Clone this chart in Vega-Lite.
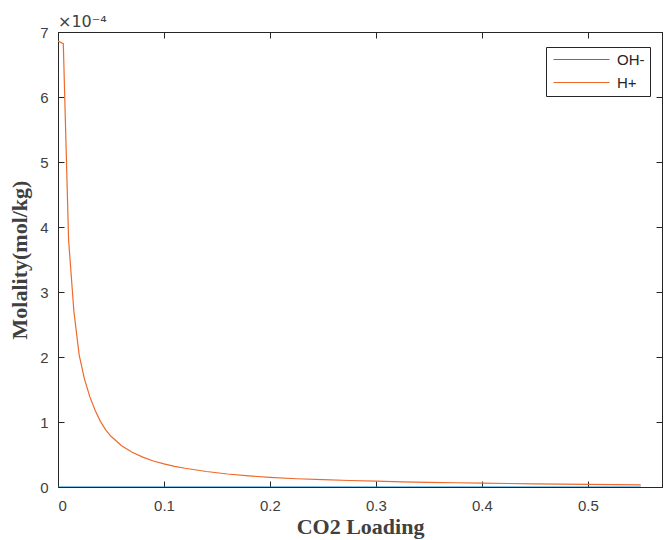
{
  "$schema": "https://vega.github.io/schema/vega-lite/v6.json",
  "width": 604,
  "height": 455,
  "autosize": "none",
  "padding": {"left": 58, "top": 32, "right": 2, "bottom": 53},
  "background": "white",
  "title": {"text": "×10⁻⁴", "anchor": "start", "frame": "group", "offset": -5, "fontSize": 16, "font": "DejaVu Sans", "fontWeight": "normal", "color": "#404040"},
  "config": {
    "title": {"fontSize": 16, "font": "DejaVu Sans", "fontWeight": "normal"},
    "view": {"stroke": "#262626", "strokeWidth": 1},
    "axis": {"grid": false, "domainColor": "#262626", "tickColor": "#262626", "tickSize": -6, "labelColor": "#404040", "labelFont": "Liberation Sans", "labelFontSize": 15, "titleFont": "Liberation Serif", "titleFontWeight": "bold", "titleFontSize": 22, "titleColor": "#404040"}
  },
  "data": {"values": [
    {"loading": 0, "species": "H+", "molality": 6.86e-4},
    {"loading": 0.005, "species": "H+", "molality": 6.82e-4},
    {"loading": 0.01, "species": "H+", "molality": 3.80e-4},
    {"loading": 0.015, "species": "H+", "molality": 2.70e-4},
    {"loading": 0.02, "species": "H+", "molality": 2.03e-4},
    {"loading": 0.025, "species": "H+", "molality": 1.66e-4},
    {"loading": 0.03, "species": "H+", "molality": 1.39e-4},
    {"loading": 0.035, "species": "H+", "molality": 1.18e-4},
    {"loading": 0.04, "species": "H+", "molality": 1.01e-4},
    {"loading": 0.045, "species": "H+", "molality": 0.88e-4},
    {"loading": 0.05, "species": "H+", "molality": 0.78e-4},
    {"loading": 0.06, "species": "H+", "molality": 0.635e-4},
    {"loading": 0.07, "species": "H+", "molality": 0.535e-4},
    {"loading": 0.08, "species": "H+", "molality": 0.46e-4},
    {"loading": 0.09, "species": "H+", "molality": 0.40e-4},
    {"loading": 0.10, "species": "H+", "molality": 0.355e-4},
    {"loading": 0.11, "species": "H+", "molality": 0.318e-4},
    {"loading": 0.12, "species": "H+", "molality": 0.288e-4},
    {"loading": 0.14, "species": "H+", "molality": 0.238e-4},
    {"loading": 0.16, "species": "H+", "molality": 0.200e-4},
    {"loading": 0.18, "species": "H+", "molality": 0.171e-4},
    {"loading": 0.20, "species": "H+", "molality": 0.148e-4},
    {"loading": 0.225, "species": "H+", "molality": 0.127e-4},
    {"loading": 0.25, "species": "H+", "molality": 0.112e-4},
    {"loading": 0.275, "species": "H+", "molality": 0.100e-4},
    {"loading": 0.30, "species": "H+", "molality": 0.090e-4},
    {"loading": 0.325, "species": "H+", "molality": 0.080e-4},
    {"loading": 0.35, "species": "H+", "molality": 0.072e-4},
    {"loading": 0.375, "species": "H+", "molality": 0.065e-4},
    {"loading": 0.40, "species": "H+", "molality": 0.059e-4},
    {"loading": 0.425, "species": "H+", "molality": 0.054e-4},
    {"loading": 0.45, "species": "H+", "molality": 0.049e-4},
    {"loading": 0.475, "species": "H+", "molality": 0.045e-4},
    {"loading": 0.50, "species": "H+", "molality": 0.041e-4},
    {"loading": 0.525, "species": "H+", "molality": 0.037e-4},
    {"loading": 0.55, "species": "H+", "molality": 0.034e-4},
    {"loading": 0, "species": "OH-", "molality": 1.5e-11},
    {"loading": 0.005, "species": "OH-", "molality": 1.5e-11},
    {"loading": 0.01, "species": "OH-", "molality": 2.6e-11},
    {"loading": 0.02, "species": "OH-", "molality": 5.0e-11},
    {"loading": 0.05, "species": "OH-", "molality": 1.3e-10},
    {"loading": 0.10, "species": "OH-", "molality": 2.9e-10},
    {"loading": 0.20, "species": "OH-", "molality": 6.8e-10},
    {"loading": 0.30, "species": "OH-", "molality": 1.1e-9},
    {"loading": 0.40, "species": "OH-", "molality": 1.7e-9},
    {"loading": 0.50, "species": "OH-", "molality": 2.4e-9},
    {"loading": 0.55, "species": "OH-", "molality": 2.9e-9}
  ]},
  "layer": [
    {
      "mark": {"type": "line", "strokeWidth": 1.2, "clip": true},
      "encoding": {
        "x": {"field": "loading", "type": "quantitative", "scale": {"domain": [0, 0.57], "nice": false, "zero": false},
              "axis": {"values": [0, 0.1, 0.2, 0.3, 0.4, 0.5], "format": "~g", "title": "CO2 Loading", "labelPadding": 17, "titlePadding": 3}},
        "y": {"field": "molality", "type": "quantitative", "scale": {"domain": [0, 0.0007], "nice": false, "zero": false},
              "axis": {"values": [0, 0.0001, 0.0002, 0.0003, 0.0004, 0.0005, 0.0006, 0.0007], "labelExpr": "round(datum.value*10000)", "title": "Molality(mol/kg)", "labelPadding": 16, "titlePadding": 8}},
        "color": {"field": "species", "type": "nominal",
                  "scale": {"domain": ["OH-", "H+"], "range": ["#1588CF", "#EE6A2B"]},
                  "legend": {"title": null, "orient": "none", "legendX": 488, "legendY": 15, "strokeColor": "#262626", "fillColor": "white", "padding": 5,
                             "labelFont": "Liberation Sans", "labelFontSize": 15, "labelColor": "#262626", "labelOffset": 51,
                             "symbolType": "M-1,0L10.2,0", "symbolSize": 100, "symbolStrokeWidth": 1.2, "rowPadding": 7}}
      }
    },
    {
      "mark": {"type": "line", "opacity": 0},
      "encoding": {
        "x": {"field": "loading", "type": "quantitative", "scale": {"domain": [0, 0.57], "nice": false, "zero": false},
              "axis": {"orient": "top", "values": [0, 0.1, 0.2, 0.3, 0.4, 0.5], "labels": false, "title": null}},
        "y": {"field": "molality", "type": "quantitative", "scale": {"domain": [0, 0.0007], "nice": false, "zero": false},
              "axis": {"orient": "right", "values": [0, 0.0001, 0.0002, 0.0003, 0.0004, 0.0005, 0.0006, 0.0007], "labels": false, "title": null}},
        "detail": {"field": "species", "type": "nominal"}
      }
    }
  ],
  "resolve": {"axis": {"x": "independent", "y": "independent"}}
}
